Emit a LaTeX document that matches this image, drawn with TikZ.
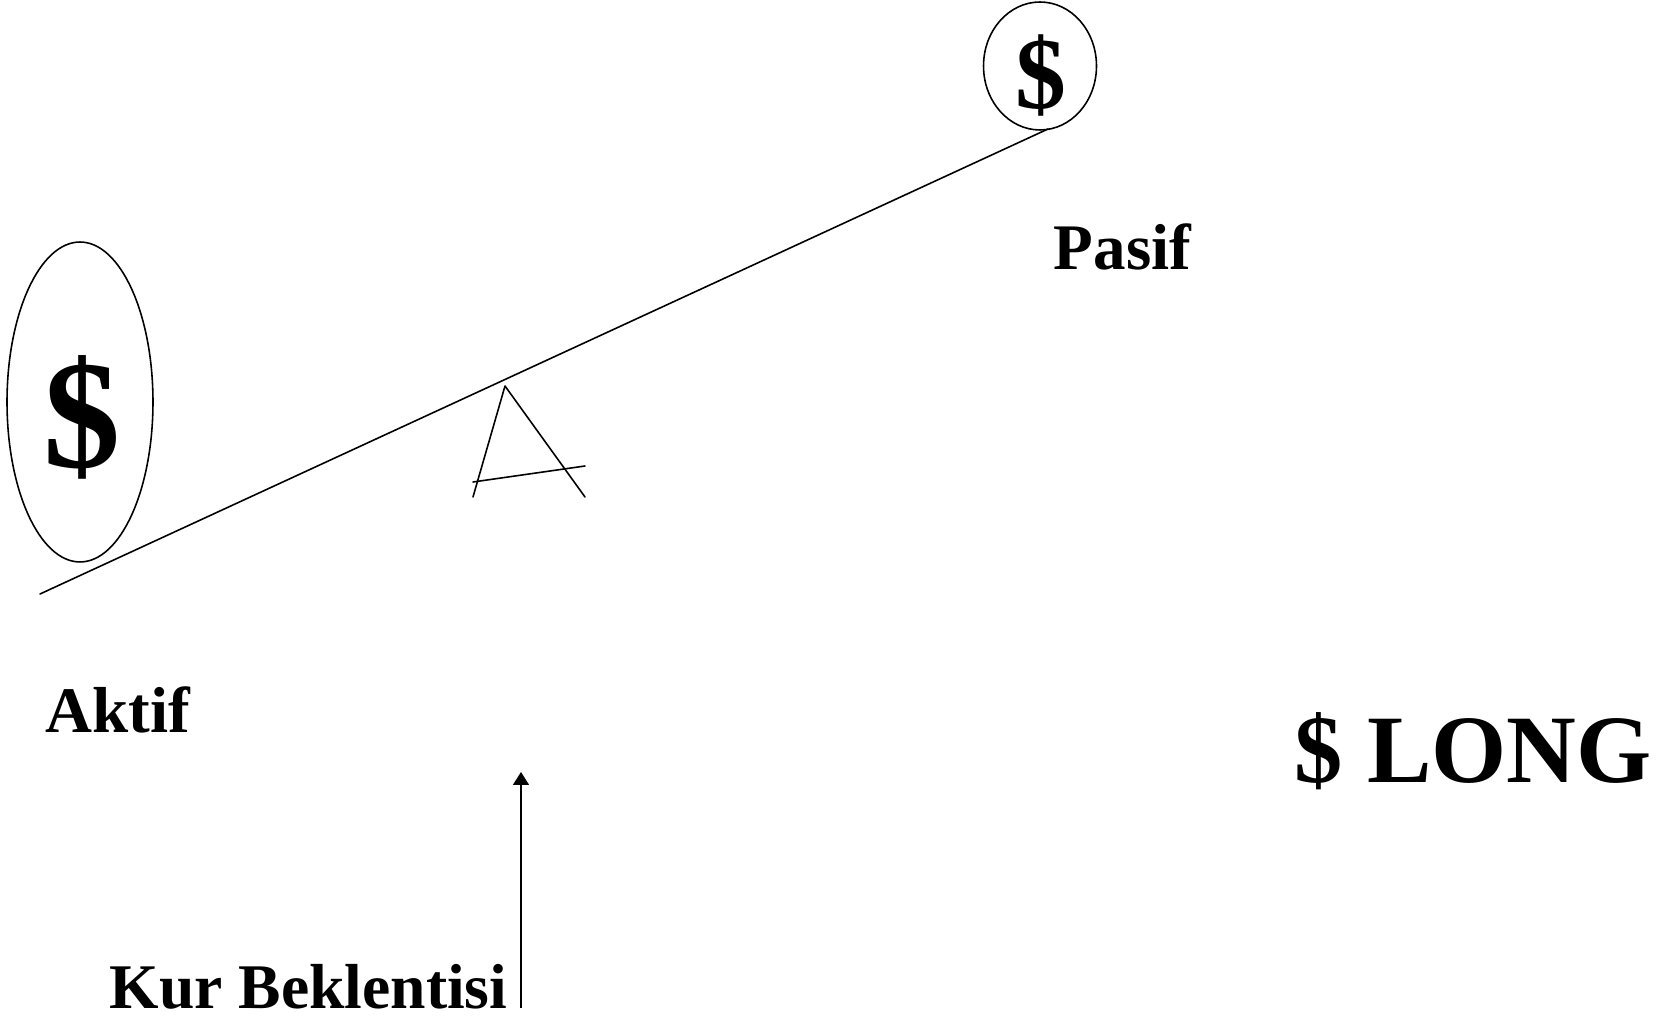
\documentclass[tikz,border=0pt]{standalone}
\usepackage{fontspec}
\setmainfont{Liberation Serif}
\usetikzlibrary{arrows.meta,shapes.geometric}
\tikzset{
  sketch/.style={
    line width=0.9pt,
    line cap=round,
    line join=round
  },
  coin/.style={
    ellipse,
    draw=black,
    line width=0.9pt,
    inner sep=0pt
  },
  word/.style={
    font=\bfseries\fontsize{37}{40}\selectfont,
    inner sep=0pt,
    anchor=base west
  },
  word-big/.style={
    font=\bfseries\fontsize{55}{60}\selectfont,
    inner sep=0pt,
    anchor=base west
  }
}

\begin{document}
\begin{tikzpicture}[x=0.02cm,y=-0.02cm,sketch]
  \useasboundingbox (0,0) rectangle (1663,1026);
  % coins on the beam
  \node[coin, minimum width=2.92cm, minimum height=6.4cm] (coinL) at (80,402) {};
  \node[inner sep=0pt, font=\bfseries\fontsize{88}{88}\selectfont] (dolL) at (82,417) {\$};
  \node[coin, minimum width=2.26cm, minimum height=2.56cm] (coinR) at (1040,66) {};
  \node[inner sep=0pt, font=\bfseries\fontsize{58}{58}\selectfont] (dolR) at (1041,75) {\$};
  % the beam
  \coordinate (beamL) at (40,594);
  \coordinate (beamR) at (1048,129);
  \draw (beamL) -- (beamR);
  % fulcrum
  \draw (473,497) -- (505,386) -- (585,497);
  \draw (473,482) -- (585,466);
  % labels
  \node[word] (pasif) at (1053,270) {Pasif};
  \node[word] (aktif) at (45,732) {Aktif};
  \node[word-big] (long) at (1294,782) {\$ LONG};
  \node[word, font=\bfseries\fontsize{36.2}{40}\selectfont] (kur) at (109,1008) {Kur Beklentisi};
  % expectation arrow
  \coordinate (arrS) at (521,1008);
  \coordinate (arrE) at (521,772);
  \draw[-{Triangle[width=0.32cm,length=0.26cm]}, line cap=butt] (arrS) -- (arrE);
\end{tikzpicture}
\end{document}
